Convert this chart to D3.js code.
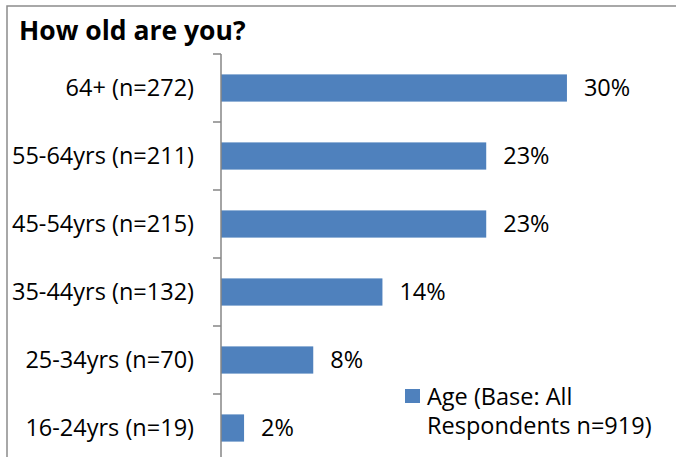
<!DOCTYPE html>
<html>
<head>
<meta charset="utf-8">
<script src="https://cdn.jsdelivr.net/npm/d3@7"></script>
<style>
  html, body { margin: 0; padding: 0; background: #fff; overflow: hidden; }
  svg { display: block; }
  text { font-family: "Open Sans", Lato, sans-serif; fill: #000; }
</style>
</head>
<body>
<svg id="chart" width="676" height="457"></svg>
<script>
// Age groups, top to bottom
const categories = ["64+ (n=272)", "55-64yrs (n=211)", "45-54yrs (n=215)", "35-44yrs (n=132)", "25-34yrs (n=70)", "16-24yrs (n=19)"];
// Share of respondents (%)
const values = [30, 23, 23, 14, 8, 2];
const seriesName = ["Age (Base: All", "Respondents n=919)"];
const title = "How old are you?";

const W = 676, H = 457;
const svg = d3.select("#chart");
const barColor = "#4F81BD";
const axisColor = "#868686";
const labelSize = 23.5;

// Outer frame (top and left edges fall inside the view)
svg.append("rect")
  .attr("x", 7).attr("y", 6)
  .attr("width", W + 20).attr("height", H + 20)
  .attr("fill", "none").attr("stroke", "#8c8c8c").attr("stroke-width", 1.5);

svg.append("text")
  .attr("x", 19).attr("y", 40)
  .attr("font-size", 26.5).attr("font-weight", "bold")
  .text(title);

const y = d3.scaleBand()
  .domain(categories)
  .range([54, 462])
  .paddingInner(0.6)
  .paddingOuter(0.3);

const x = d3.scaleLinear().domain([0, 35]).range([221, 624.6]);

const data = categories.map((c, i) => ({ cat: c, v: values[i] }));

// Bars
svg.append("g").selectAll("rect")
  .data(data).join("rect")
  .attr("x", x(0))
  .attr("y", d => y(d.cat))
  .attr("width", d => x(d.v) - x(0))
  .attr("height", y.bandwidth())
  .attr("fill", barColor);

// Category axis with ticks between bands
const step = y.step();
const bounds = d3.range(categories.length + 1).map(i => y.range()[0] + i * step);
const axisG = svg.append("g");
axisG.append("line")
  .attr("x1", x(0)).attr("x2", x(0))
  .attr("y1", bounds[0]).attr("y2", bounds[bounds.length - 1])
  .attr("stroke", axisColor).attr("stroke-width", 1.5);
axisG.selectAll("line.tick")
  .data(bounds).join("line")
  .attr("class", "tick")
  .attr("x1", x(0) - 8).attr("x2", x(0))
  .attr("y1", d => d).attr("y2", d => d)
  .attr("stroke", axisColor).attr("stroke-width", 1.5);

// Category labels
svg.append("g").selectAll("text")
  .data(data).join("text")
  .attr("x", 194)
  .attr("y", d => y(d.cat) + y.bandwidth() / 2)
  .attr("dy", "0.36em")
  .attr("text-anchor", "end")
  .attr("font-size", labelSize)
  .text(d => d.cat);

// Value labels
svg.append("g").selectAll("text")
  .data(data).join("text")
  .attr("x", d => x(d.v) + 17)
  .attr("y", d => y(d.cat) + y.bandwidth() / 2)
  .attr("dy", "0.36em")
  .attr("font-size", labelSize)
  .text(d => d.v + "%");

// Legend
const lg = svg.append("g");
lg.append("rect")
  .attr("x", 405).attr("y", 389).attr("width", 15).attr("height", 14)
  .attr("fill", barColor);
lg.selectAll("text")
  .data(seriesName).join("text")
  .attr("x", 427)
  .attr("y", (d, i) => 405 + i * 29)
  .attr("font-size", labelSize)
  .text(d => d);
</script>
</body>
</html>
